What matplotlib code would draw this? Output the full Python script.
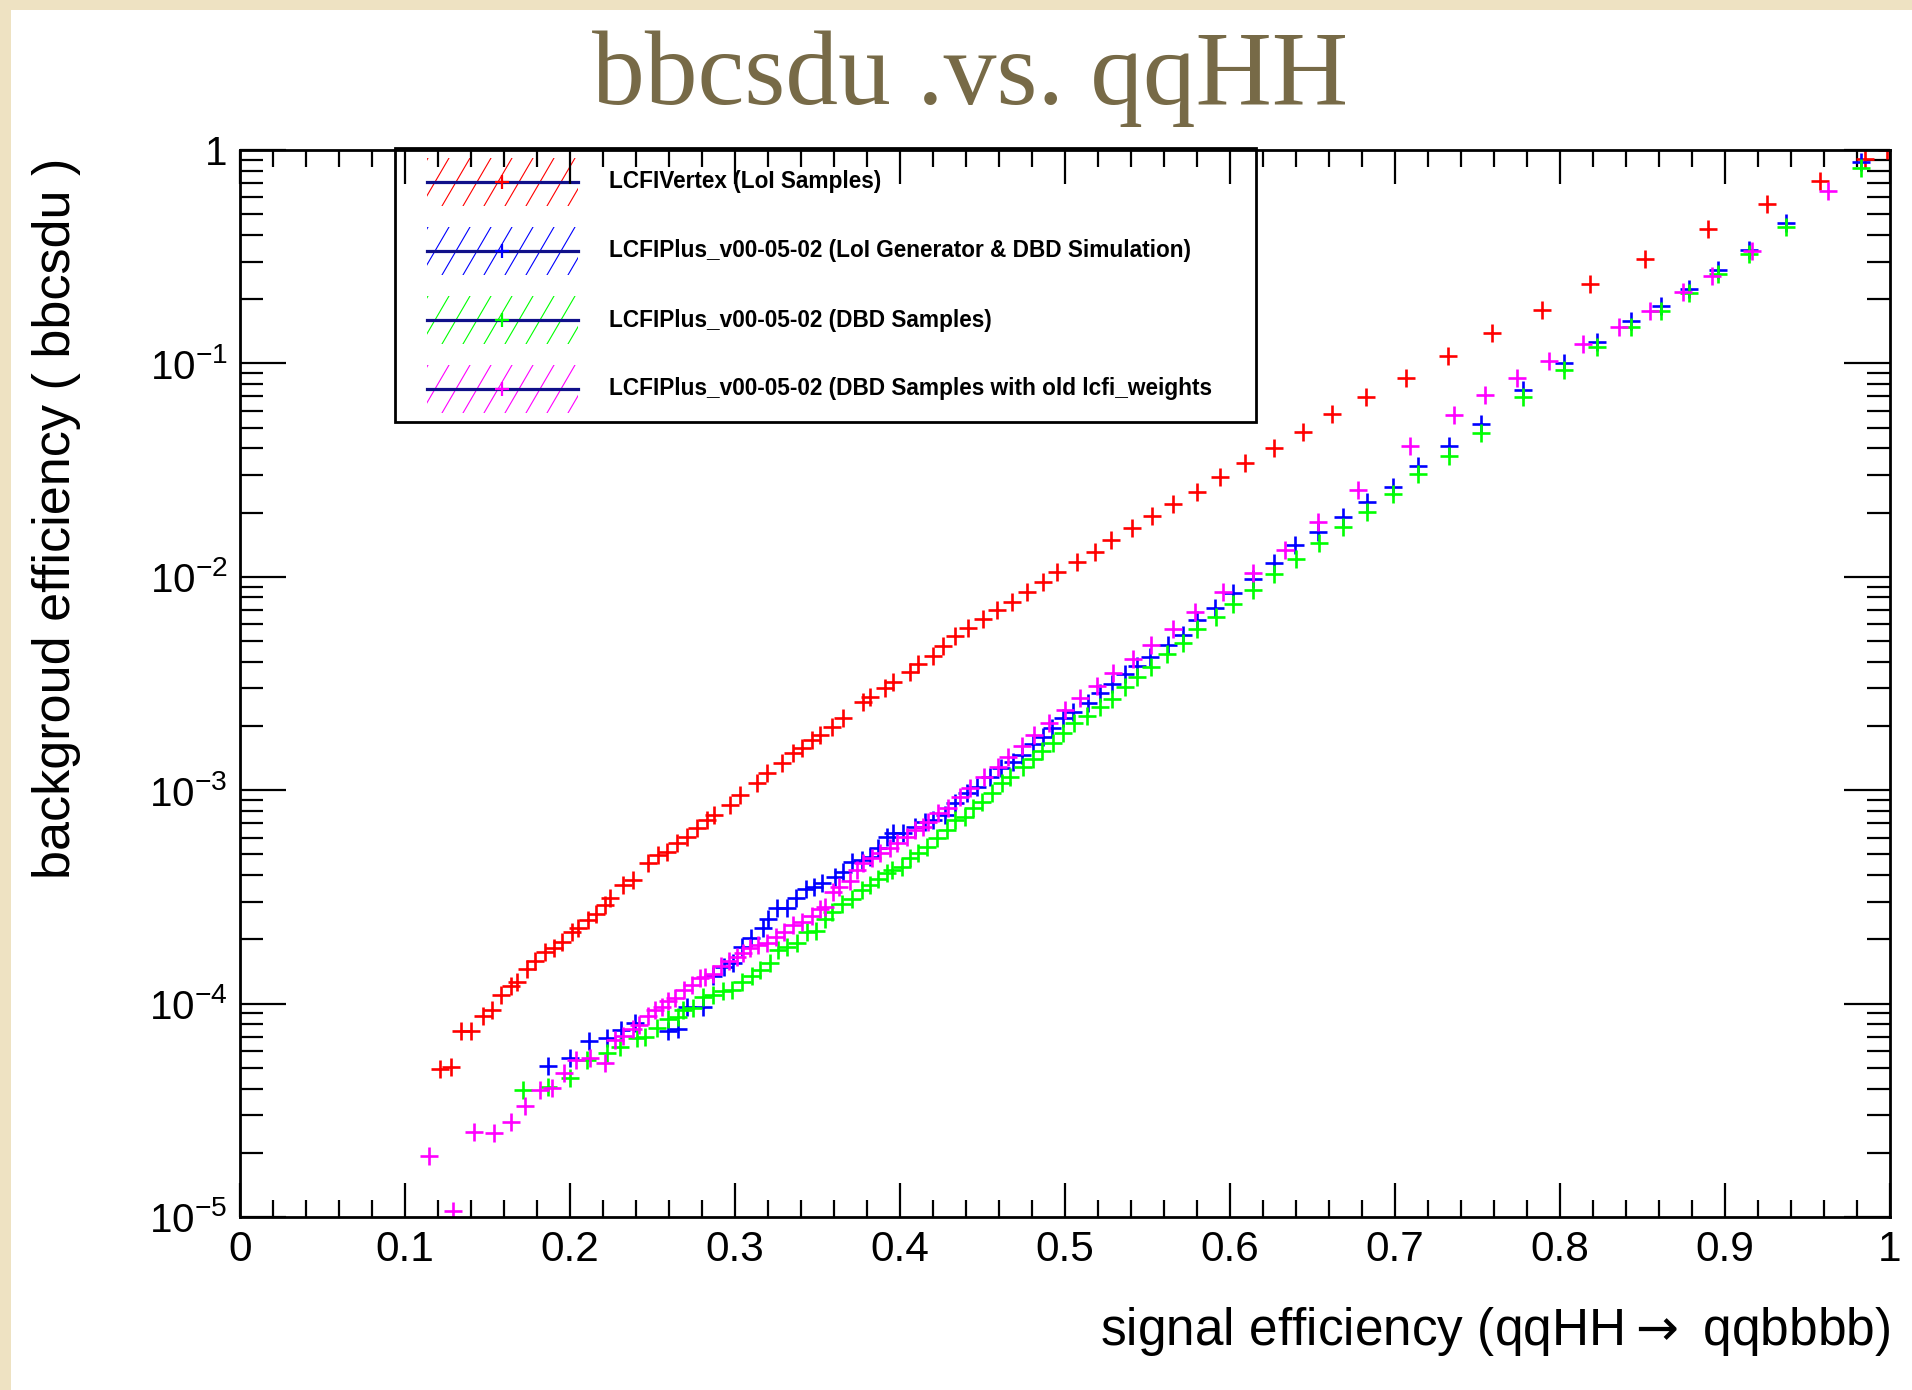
import matplotlib
matplotlib.use('Agg')
import numpy as np
import matplotlib.pyplot as plt
from matplotlib.patches import Rectangle
from matplotlib.ticker import MultipleLocator, LogLocator, NullFormatter

plt.rcParams['font.family'] = ['Liberation Sans', 'DejaVu Sans']

# signal efficiency / log10(background efficiency)
red_sig = [0.121, 0.128, 0.134, 0.140, 0.147,
           0.153, 0.158, 0.164, 0.168, 0.174,
           0.179, 0.185, 0.190, 0.195, 0.201,
           0.205, 0.211, 0.216, 0.221, 0.224,
           0.232, 0.238, 0.2475, 0.2535, 0.2586,
           0.2647, 0.2707, 0.2768, 0.2828, 0.2873,
           0.2970, 0.3030, 0.3131, 0.3192, 0.3283,
           0.3354, 0.3404, 0.3465, 0.3515, 0.3586,
           0.3657, 0.3778, 0.3818, 0.3909, 0.3960,
           0.4061, 0.4111, 0.4202, 0.4260, 0.4333,
           0.4414, 0.4501, 0.4590, 0.4677, 0.4768,
           0.4869, 0.4953, 0.5071, 0.5182, 0.5277,
           0.5404, 0.5525, 0.5657, 0.5798, 0.5939,
           0.6093, 0.6267, 0.6440, 0.6616, 0.6824,
           0.7066, 0.7323, 0.7588, 0.7888, 0.8184,
           0.8513, 0.8896, 0.9256, 0.9578, 0.9847,
           0.9984]
red_log = [-4.307, -4.296, -4.127, -4.127, -4.058,
           -4.030, -3.960, -3.918, -3.897, -3.839,
           -3.800, -3.757, -3.741, -3.710, -3.663,
           -3.647, -3.608, -3.580, -3.538, -3.507,
           -3.444, -3.421, -3.340, -3.304, -3.288,
           -3.249, -3.218, -3.179, -3.140, -3.116,
           -3.069, -3.022, -2.968, -2.921, -2.874,
           -2.827, -2.804, -2.765, -2.741, -2.702,
           -2.663, -2.585, -2.562, -2.523, -2.491,
           -2.447, -2.408, -2.370, -2.325, -2.277,
           -2.242, -2.199, -2.156, -2.117, -2.070,
           -2.023, -1.976, -1.929, -1.882, -1.828,
           -1.773, -1.715, -1.659, -1.601, -1.531,
           -1.465, -1.398, -1.320, -1.237, -1.156,
           -1.070, -0.964, -0.859, -0.750, -0.629,
           -0.512, -0.372, -0.253, -0.144, -0.044,
           0.0]

blue_sig = [0.1869, 0.2000, 0.2117, 0.2222, 0.2308,
            0.2394, 0.2596, 0.2657, 0.2707, 0.2808,
            0.2869, 0.2935, 0.2985, 0.3045, 0.3096,
            0.3167, 0.3202, 0.3253, 0.3318, 0.3369,
            0.3429, 0.3480, 0.3530, 0.3606, 0.3657,
            0.3707, 0.3768, 0.3818, 0.3869, 0.3919,
            0.3960, 0.4020, 0.4091, 0.4152, 0.4202,
            0.4273, 0.4333, 0.4404, 0.4465, 0.4545,
            0.4611, 0.4682, 0.4742, 0.4808, 0.4864,
            0.4924, 0.4985, 0.5051, 0.5137, 0.5212,
            0.5283, 0.5364, 0.5434, 0.5515, 0.5626,
            0.5717, 0.5802, 0.5909, 0.6020, 0.6141,
            0.6267, 0.6394, 0.6535, 0.6684, 0.6828,
            0.6986, 0.7138, 0.7327, 0.7519, 0.7775,
            0.8023, 0.8226, 0.8428, 0.8612, 0.8782,
            0.8955, 0.9145, 0.9369, 0.9824]
blue_log = [-4.292, -4.257, -4.175, -4.161, -4.124,
            -4.092, -4.128, -4.120, -4.015, -4.016,
            -3.870, -3.827, -3.811, -3.737, -3.694,
            -3.648, -3.604, -3.553, -3.553, -3.503,
            -3.464, -3.452, -3.433, -3.405, -3.382,
            -3.335, -3.327, -3.311, -3.272, -3.218,
            -3.202, -3.202, -3.171, -3.148, -3.140,
            -3.116, -3.061, -3.015, -2.984, -2.937,
            -2.894, -2.870, -2.835, -2.784, -2.753,
            -2.710, -2.663, -2.632, -2.590, -2.546,
            -2.502, -2.456, -2.418, -2.374, -2.320,
            -2.273, -2.202, -2.148, -2.077, -2.012,
            -1.934, -1.851, -1.789, -1.720, -1.651,
            -1.578, -1.480, -1.387, -1.286, -1.125,
            -1.000, -0.898, -0.801, -0.731, -0.651,
            -0.562, -0.469, -0.341, -0.058]

green_sig = [0.1717, 0.1869, 0.2000, 0.2101, 0.2222,
             0.2303, 0.2404, 0.2455, 0.2525, 0.2596,
             0.2657, 0.2687, 0.2747, 0.2808, 0.2869,
             0.2929, 0.2980, 0.3040, 0.3101, 0.3152,
             0.3212, 0.3263, 0.3313, 0.3374, 0.3434,
             0.3490, 0.3545, 0.3586, 0.3646, 0.3707,
             0.3768, 0.3818, 0.3869, 0.3919, 0.3949,
             0.4010, 0.4061, 0.4111, 0.4162, 0.4222,
             0.4283, 0.4333, 0.4394, 0.4444, 0.4495,
             0.4556, 0.4616, 0.4667, 0.4747, 0.4808,
             0.4859, 0.4925, 0.4990, 0.5055, 0.5131,
             0.5212, 0.5283, 0.5364, 0.5434, 0.5519,
             0.5616, 0.5717, 0.5802, 0.5915, 0.6020,
             0.6138, 0.6267, 0.6400, 0.6541, 0.6683,
             0.6828, 0.6986, 0.7140, 0.7327, 0.7519,
             0.7775, 0.8023, 0.8226, 0.8428, 0.8612,
             0.8782, 0.8955, 0.9145, 0.9369, 0.9824]
green_log = [-4.405, -4.389, -4.350, -4.264, -4.233,
             -4.202, -4.163, -4.155, -4.116, -4.072,
             -4.061, -4.030, -4.020, -3.970, -3.960,
             -3.940, -3.936, -3.900, -3.870, -3.843,
             -3.811, -3.749, -3.737, -3.718, -3.663,
             -3.659, -3.604, -3.573, -3.534, -3.510,
             -3.470, -3.444, -3.417, -3.390, -3.374,
             -3.358, -3.319, -3.296, -3.265, -3.226,
             -3.187, -3.140, -3.124, -3.085, -3.054,
             -3.015, -2.968, -2.937, -2.890, -2.855,
             -2.815, -2.777, -2.734, -2.687, -2.652,
             -2.612, -2.574, -2.518, -2.471, -2.421,
             -2.362, -2.309, -2.246, -2.190, -2.127,
             -2.062, -1.987, -1.918, -1.843, -1.767,
             -1.695, -1.612, -1.519, -1.434, -1.328,
             -1.156, -1.031, -0.925, -0.828, -0.753,
             -0.672, -0.581, -0.487, -0.359, -0.085]

mag_sig = [0.1147, 0.1289, 0.1418, 0.1539, 0.1640,
           0.1727, 0.1818, 0.1889, 0.1966, 0.2034,
           0.2121, 0.2212, 0.2273, 0.2323, 0.2384,
           0.2420, 0.2470, 0.2515, 0.2556, 0.2596,
           0.2636, 0.2692, 0.2742, 0.2788, 0.2818,
           0.2864, 0.2914, 0.2965, 0.3010, 0.3050,
           0.3091, 0.3141, 0.3192, 0.3247, 0.3298,
           0.3354, 0.3404, 0.3465, 0.3515, 0.3545,
           0.3591, 0.3631, 0.3697, 0.3737, 0.3778,
           0.3828, 0.3879, 0.3939, 0.3980, 0.4040,
           0.4091, 0.4141, 0.4172, 0.4232, 0.4293,
           0.4364, 0.4424, 0.4510, 0.4591, 0.4657,
           0.4737, 0.4813, 0.4904, 0.5000, 0.5091,
           0.5192, 0.5293, 0.5414, 0.5519, 0.5657,
           0.5788, 0.5960, 0.6141, 0.6333, 0.6535,
           0.6778, 0.7090, 0.7356, 0.7545, 0.7742,
           0.7934, 0.8137, 0.8359, 0.8546, 0.8747,
           0.8924, 0.9164, 0.9625]
mag_log = [-4.714, -4.972, -4.600, -4.605, -4.556,
           -4.478, -4.405, -4.397, -4.324, -4.264,
           -4.257, -4.280, -4.170, -4.150, -4.120,
           -4.100, -4.060, -4.030, -4.015, -3.987,
           -3.975, -3.936, -3.913, -3.880, -3.874,
           -3.862, -3.823, -3.800, -3.780, -3.765,
           -3.741, -3.725, -3.714, -3.686, -3.663,
           -3.632, -3.616, -3.588, -3.558, -3.546,
           -3.479, -3.452, -3.425, -3.374, -3.343,
           -3.319, -3.296, -3.272, -3.249, -3.218,
           -3.187, -3.171, -3.148, -3.108, -3.085,
           -3.030, -2.991, -2.936, -2.893, -2.846,
           -2.792, -2.741, -2.683, -2.624, -2.570,
           -2.512, -2.452, -2.387, -2.320, -2.246,
           -2.166, -2.070, -1.981, -1.874, -1.744,
           -1.591, -1.386, -1.242, -1.148, -1.067,
           -0.989, -0.911, -0.831, -0.754, -0.665,
           -0.589, -0.472, -0.192]

labels = ['LCFIVertex (LoI Samples)',
          'LCFIPlus_v00-05-02 (LoI Generator & DBD Simulation)',
          'LCFIPlus_v00-05-02 (DBD Samples)',
          'LCFIPlus_v00-05-02 (DBD Samples with old lcfi_weights']
colors = ['#ff0000', '#0000ff', '#00ff00', '#ff00ff']

x_ticks = [0, 0.1, 0.2, 0.3, 0.4, 0.5, 0.6, 0.7, 0.8, 0.9, 1]
x_tick_labels = ['0', '0.1', '0.2', '0.3', '0.4', '0.5', '0.6', '0.7', '0.8', '0.9', '1']
y_ticks = [1e-5, 1e-4, 1e-3, 1e-2, 1e-1, 1]
y_tick_labels = [r'$\mathregular{10^{-5}}$', r'$\mathregular{10^{-4}}$', r'$\mathregular{10^{-3}}$',
                 r'$\mathregular{10^{-2}}$', r'$\mathregular{10^{-1}}$', '1']

W, H = 1912, 1390
fig = plt.figure(figsize=(W / 100, H / 100), dpi=100, facecolor='#eee2c2')
fig.add_artist(Rectangle((11 / W, 0), 1, 1 - 10 / H, transform=fig.transFigure,
                         facecolor='white', edgecolor='none', zorder=-5))

# title
fig.text(970 / W, 1 - 104 / H, 'bbcsdu .vs. qqHH', ha='center', va='baseline',
         fontsize=76, family='Liberation Serif', color='#776a47')

# legend drawn in its own pixel-coordinate axes under the frame
L, R, T, B = 394, 1258, 148, 424
lax = fig.add_axes([L / W, 1 - B / H, (R - L) / W, (B - T) / H], zorder=0)
lax.set_xlim(L, R)
lax.set_ylim(B, T)
lax.axis('off')
lax.add_patch(Rectangle((L + 1, T), R - L - 3, B - T - 2, facecolor='white',
                        edgecolor='black', lw=2.0, clip_on=False))
rows = [182, 251, 320, 389]
for yc, c, lab in zip(rows, colors, labels):
    box = Rectangle((427, yc - 24), 151, 48, facecolor='none', edgecolor='none')
    lax.add_patch(box)
    for x0 in range(400, 590, 21):
        ln, = lax.plot([x0, x0 + 28], [yc + 24, yc - 24], color=c, lw=0.8)
        ln.set_clip_path(box)
    lax.plot([427, 578], [yc, yc], color='#10108a', lw=2.3)
    lax.plot([502], [yc], marker='+', ms=10, mew=1.6, color=c)
    lax.text(609, yc, lab, va='center', ha='left', fontsize=16.3, fontweight='bold')

ax = fig.add_axes([240 / W, 1 - 1217 / H, 1650 / W, 1067 / H], zorder=1)
ax.set_facecolor('none')

series = [(red_sig, red_log), (blue_sig, blue_log), (green_sig, green_log), (mag_sig, mag_log)]
for (sx, sl), c in zip(series, colors):
    ax.plot(sx, 10 ** np.array(sl), ls='none', marker='+', ms=12.5, mew=1.9, color=c)

ax.set_xlim(0, 1)
ax.set_yscale('log')
ax.set_ylim(1e-5, 1)
ax.set_xticks(x_ticks, x_tick_labels)
ax.xaxis.set_minor_locator(MultipleLocator(0.02))
ax.set_yticks(y_ticks, y_tick_labels)
ax.yaxis.set_minor_locator(LogLocator(base=10, subs=range(2, 10), numticks=20))
ax.yaxis.set_minor_formatter(NullFormatter())
ax.tick_params(which='both', direction='in', top=True, right=True, width=1.6, colors='black')
ax.tick_params(axis='x', which='major', length=24.5, pad=9.5, labelsize=30.5)
ax.tick_params(axis='x', which='minor', length=12.2)
ax.tick_params(axis='y', which='major', length=33, pad=9, labelsize=29)
ax.tick_params(axis='y', which='minor', length=16.6)
for s in ax.spines.values():
    s.set_linewidth(2.0)

fig.text(1890 / W, 1 - 1332 / H, r'signal efficiency (qqHH$\rightarrow$ qqbbbb)', ha='right',
         va='center', fontsize=37)
fig.text(57 / W, 1 - 158 / H, 'backgroud efficiency ( bbcsdu )', rotation=90, ha='center',
         va='top', fontsize=37.5)

fig.savefig('out.png', dpi=100, facecolor=fig.get_facecolor())
